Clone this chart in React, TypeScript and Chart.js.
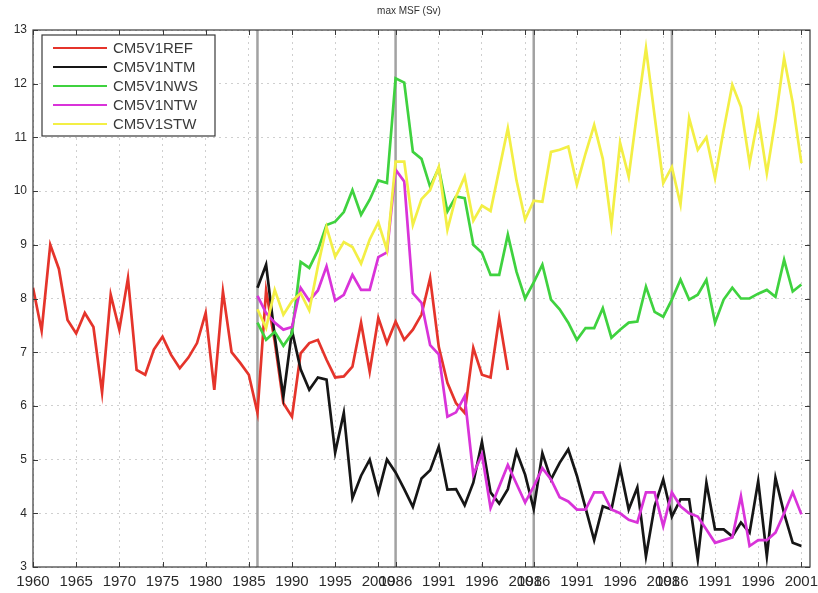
import React, { useEffect, useRef } from 'react';
import { Chart, registerables } from 'chart.js';

Chart.register(...registerables);

const TITLE = 'max MSF (Sv)';

// Forcing cycles laid end to end along the time axis (first / last forcing year)
const CYCLE_FIRST = [1960, 1986, 1986, 1986];
const CYCLE_LAST = [2001, 2001, 2001, 2001];
const RESTART_YEAR = 1986;

// Labelled ticks within each cycle
const TICK_YEARS = [
  [1960, 1965, 1970, 1975, 1980, 1985, 1990, 1995, 2000],
  [1986, 1991, 1996, 2001],
  [1986, 1991, 1996, 2001],
  [1986, 1991, 1996, 2001],
];

const Y_MIN = 3;
const Y_MAX = 13;

// Reference run starts in 1960 of the first cycle, sensitivity runs branch off in 1986
const REF_START_YEAR = 1960;
const EXP_START_YEAR = 1986;

const SERIES_NAMES = ['CM5V1REF', 'CM5V1NTM', 'CM5V1NWS', 'CM5V1NTW', 'CM5V1STW'];

const ref_msf = [
  8.2, 7.4, 9.0, 8.55, 7.6, 7.35, 7.73, 7.47, 6.25, 8.07,
  7.42, 8.38, 6.67, 6.58, 7.05, 7.29, 6.95, 6.7, 6.9, 7.17,
  7.73, 6.3, 8.13, 7.0, 6.8, 6.58, 5.87, 8.15, 7.2, 6.05,
  5.8, 6.98, 7.17, 7.23, 6.86, 6.53, 6.55, 6.73, 7.55, 6.64,
  7.64, 7.17, 7.57, 7.23, 7.42, 7.7, 8.38, 7.1, 6.43, 6.05,
  5.87, 7.08, 6.58, 6.53, 7.64, 6.67,
];

const ntm_msf = [
  8.2, 8.63, 7.3, 6.17, 7.4, 6.68, 6.3, 6.53, 6.49, 5.13,
  5.87, 4.28, 4.7, 5.0, 4.38, 5.0, 4.76, 4.45, 4.12, 4.65,
  4.8, 5.24, 4.44, 4.45, 4.15, 4.57, 5.33, 4.39, 4.18, 4.45,
  5.15, 4.72, 4.08, 5.12, 4.63, 4.94, 5.19, 4.7, 4.1, 3.5,
  4.13, 4.07, 4.85, 4.07, 4.48, 3.2, 4.13, 4.63, 3.94, 4.26,
  4.26, 3.14, 4.57, 3.7, 3.7, 3.57, 3.83, 3.64, 4.6, 3.2,
  4.66, 4.0, 3.45, 3.39,
];

const nws_msf = [
  7.55, 7.23, 7.38, 7.12, 7.35, 8.68, 8.57, 8.9, 9.37, 9.43,
  9.61, 10.02, 9.56, 9.84, 10.2, 10.15, 12.1, 12.02, 10.73, 10.6,
  10.08, 10.43, 9.62, 9.9, 9.87, 9.0, 8.85, 8.44, 8.44, 9.19,
  8.5, 8.0, 8.3, 8.63, 7.98, 7.8, 7.55, 7.23, 7.45, 7.45,
  7.82, 7.27, 7.42, 7.55, 7.57, 8.22, 7.75, 7.66, 7.98, 8.35,
  7.98, 8.07, 8.35, 7.55, 7.98, 8.2, 8.0, 8.0, 8.09, 8.16,
  8.03, 8.72, 8.13, 8.26,
];

const ntw_msf = [
  8.05, 7.73, 7.55, 7.42, 7.47, 8.2, 7.96, 8.15, 8.6, 7.96,
  8.07, 8.44, 8.16, 8.16, 8.77, 8.86, 10.4, 10.18, 8.1, 7.92,
  7.13, 6.96, 5.8, 5.88, 6.18, 4.72, 5.1, 4.1, 4.5, 4.9,
  4.55, 4.2, 4.5, 4.84, 4.63, 4.3, 4.22, 4.07, 4.07, 4.39,
  4.39, 4.07, 4.0, 3.88, 3.83, 4.39, 4.39, 3.76, 4.39, 4.13,
  4.0, 3.94, 3.7, 3.45, 3.5, 3.55, 4.32, 3.39, 3.5, 3.5,
  3.64, 4.0, 4.39, 3.98,
];

const stw_msf = [
  7.8, 7.45, 8.16, 7.7, 7.95, 8.1, 7.78, 8.6, 9.33, 8.78,
  9.05, 8.96, 8.65, 9.1, 9.42, 8.9, 10.55, 10.55, 9.37, 9.85,
  10.02, 10.45, 9.28, 9.9, 10.27, 9.45, 9.73, 9.63, 10.4, 11.17,
  10.2, 9.47, 9.82, 9.8, 10.73, 10.77, 10.83, 10.12, 10.7, 11.23,
  10.6, 9.37, 10.9, 10.27, 11.5, 12.66, 11.4, 10.15, 10.45, 9.75,
  11.36, 10.77, 11.0, 10.24, 11.14, 11.98, 11.57, 10.52, 11.38, 10.33,
  11.33, 12.48, 11.64, 10.52,
];

const SERIES_VALUES = [ref_msf, ntm_msf, nws_msf, ntw_msf, stw_msf];
const SERIES_START = [REF_START_YEAR, EXP_START_YEAR, EXP_START_YEAR, EXP_START_YEAR, EXP_START_YEAR];
const SERIES_COLORS = ['#e5342b', '#161616', '#3fd23f', '#d933d9', '#f3ef45'];

// Offsets of every cycle on the continuous time axis
function cycleOffsets() {
  const offs: number[] = [];
  let pos = 0;
  for (let c = 0; c < CYCLE_FIRST.length; c++) {
    offs.push(pos);
    pos += CYCLE_LAST[c] - CYCLE_FIRST[c] + 1;
  }
  return { offs, total: pos };
}

const { offs: CYCLE_OFFS, total: AXIS_LEN } = cycleOffsets();
const posOf = (cycle: number, year: number) => CYCLE_OFFS[cycle] + (year - CYCLE_FIRST[cycle]);

const tickLabelAt = new Map<number, string>();
TICK_YEARS.forEach((years, c) => years.forEach((y) => tickLabelAt.set(posOf(c, y), String(y))));
const TICK_POS = Array.from(tickLabelAt.keys()).sort((a, b) => a - b);

const RESTART_POS = CYCLE_FIRST.map((_, c) => posOf(c, RESTART_YEAR));

const FONT = '"Liberation Sans", Arial, Helvetica, sans-serif';

const framePlugin = {
  id: 'msfFrame',
  beforeDatasetsDraw(chart: any) {
    const { ctx, chartArea: a, scales } = chart;
    ctx.save();
    ctx.strokeStyle = '#a2a2a2';
    ctx.lineWidth = 2.5;
    for (const p of RESTART_POS) {
      const x = scales.x.getPixelForValue(p);
      ctx.beginPath();
      ctx.moveTo(x, a.top);
      ctx.lineTo(x, a.bottom);
      ctx.stroke();
    }
    ctx.restore();
  },
  afterDatasetsDraw(chart: any) {
    const { ctx, chartArea: a, scales } = chart;
    ctx.save();
    // axes box
    ctx.strokeStyle = '#3a3a3a';
    ctx.lineWidth = 1.2;
    ctx.strokeRect(a.left, a.top, a.right - a.left, a.bottom - a.top);
    // inward ticks
    ctx.lineWidth = 1;
    const tl = 5;
    ctx.beginPath();
    for (const p of TICK_POS) {
      const x = Math.round(scales.x.getPixelForValue(p)) + 0.5;
      ctx.moveTo(x, a.bottom);
      ctx.lineTo(x, a.bottom - tl);
      ctx.moveTo(x, a.top);
      ctx.lineTo(x, a.top + tl);
    }
    for (let v = Y_MIN; v <= Y_MAX; v++) {
      const y = Math.round(scales.y.getPixelForValue(v)) + 0.5;
      ctx.moveTo(a.left, y);
      ctx.lineTo(a.left + tl, y);
      ctx.moveTo(a.right, y);
      ctx.lineTo(a.right - tl, y);
    }
    ctx.stroke();

    // legend box
    const bx = a.left + 9;
    const by = a.top + 5;
    const bw = 173;
    const bh = 101;
    ctx.fillStyle = '#ffffff';
    ctx.fillRect(bx, by, bw, bh);
    ctx.strokeStyle = '#3a3a3a';
    ctx.lineWidth = 1.2;
    ctx.strokeRect(bx, by, bw, bh);
    ctx.font = `15px ${FONT}`;
    ctx.textBaseline = 'middle';
    ctx.textAlign = 'left';
    chart.data.datasets.forEach((ds: any, i: number) => {
      const y = by + 13 + i * 19;
      ctx.strokeStyle = ds.borderColor;
      ctx.lineWidth = 2;
      ctx.beginPath();
      ctx.moveTo(bx + 11, y);
      ctx.lineTo(bx + 65, y);
      ctx.stroke();
      ctx.fillStyle = '#3a3a3a';
      ctx.fillText(ds.label, bx + 71, y + 1);
    });

    // title
    ctx.fillStyle = '#333333';
    ctx.font = `10px ${FONT}`;
    ctx.textAlign = 'center';
    ctx.textBaseline = 'middle';
    ctx.fillText(TITLE, chart.width / 2, 11);
    ctx.restore();
  },
};

export default function App() {
  const canvasRef = useRef<HTMLCanvasElement>(null);

  useEffect(() => {
    document.body.style.margin = '0';
    const canvas = canvasRef.current;
    if (!canvas) return;

    const datasets = SERIES_NAMES.map((name, i) => {
      const start = posOf(0, SERIES_START[i]);
      return {
        label: name,
        data: SERIES_VALUES[i].map((v, k) => ({ x: start + k, y: v })),
        borderColor: SERIES_COLORS[i],
        backgroundColor: SERIES_COLORS[i],
        borderWidth: 2.7,
        pointRadius: 0,
        tension: 0,
        fill: false,
        order: SERIES_NAMES.length - i,
      };
    });

    const chart = new Chart(canvas, {
      type: 'line',
      data: { datasets },
      plugins: [framePlugin],
      options: {
        responsive: false,
        animation: false,
        devicePixelRatio: 1,
        layout: { padding: { top: 30, right: 8, left: 0, bottom: 0 } },
        plugins: {
          legend: { display: false },
          tooltip: { enabled: false },
          title: { display: false },
        },
        scales: {
          x: {
            type: 'linear',
            min: 0,
            max: AXIS_LEN,
            afterFit: (s: any) => {
              s.height = 26;
              s.paddingLeft = 0;
              s.paddingRight = 0;
            },
            afterBuildTicks: (s: any) => { s.ticks = TICK_POS.map((v) => ({ value: v })); },
            ticks: {
              autoSkip: false,
              maxRotation: 0,
              padding: 6,
              color: '#2a2a2a',
              font: { family: FONT, size: 15 },
              callback: (v: any) => tickLabelAt.get(Number(v)) ?? '',
            },
            grid: { color: '#cfcfcf', lineWidth: 1, drawTicks: false },
            border: { display: false, dash: [2, 4] },
          },
          y: {
            type: 'linear',
            min: Y_MIN,
            max: Y_MAX,
            afterFit: (s: any) => {
              s.width = 33;
              s.paddingTop = 0;
              s.paddingBottom = 0;
            },
            ticks: {
              stepSize: 1,
              padding: 6,
              color: '#2a2a2a',
              font: { family: FONT, size: 12 },
            },
            grid: { color: '#cfcfcf', lineWidth: 1, drawTicks: false },
            border: { display: false, dash: [2, 4] },
          },
        },
      },
    });

    return () => chart.destroy();
  }, []);

  return (
    <div style={{ width: 818, height: 593 }}>
      <canvas ref={canvasRef} width={818} height={593} style={{ display: 'block', width: 818, height: 593 }} />
    </div>
  );
}
